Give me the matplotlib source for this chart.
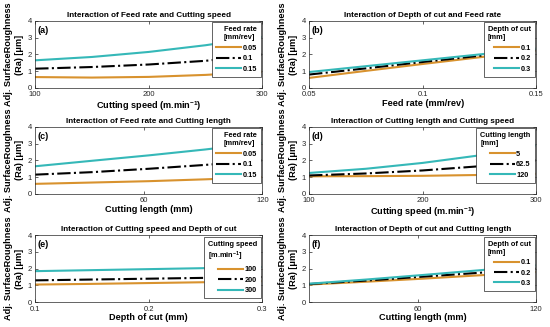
import numpy as np
import matplotlib
matplotlib.use("Agg")
import matplotlib.pyplot as plt

# ---- data ----
# (a) feed rate x cutting speed
speed = [100, 150, 200, 250, 300]
a_f005 = [0.65, 0.62, 0.66, 0.78, 0.97]
a_f010 = [1.15, 1.25, 1.40, 1.62, 2.00]
a_f015 = [1.65, 1.85, 2.15, 2.55, 3.05]

# (b) depth of cut x feed rate
feed = [0.05, 0.075, 0.1, 0.125, 0.15]
b_d01 = [0.60, 1.02, 1.43, 1.83, 2.22]
b_d02 = [0.80, 1.17, 1.55, 1.92, 2.30]
b_d03 = [0.95, 1.30, 1.65, 2.00, 2.35]

# (c) feed rate x cutting length
length = [5, 34, 62.5, 91, 120]
c_f005 = [0.60, 0.68, 0.76, 0.87, 1.00]
c_f010 = [1.15, 1.30, 1.50, 1.73, 2.00]
c_f015 = [1.65, 1.98, 2.30, 2.65, 3.05]

# (d) cutting length x cutting speed
d_l5 = [1.05, 1.06, 1.08, 1.13, 1.20]
d_l625 = [1.10, 1.22, 1.40, 1.65, 2.00]
d_l120 = [1.25, 1.50, 1.85, 2.30, 2.90]

# (e) cutting speed x depth of cut
doc = [0.1, 0.15, 0.2, 0.25, 0.3]
e_s100 = [1.05, 1.09, 1.14, 1.19, 1.25]
e_s200 = [1.30, 1.35, 1.40, 1.45, 1.50]
e_s300 = [1.85, 1.91, 1.97, 2.03, 2.10]

# (f) depth of cut x cutting length
f_d01 = [1.05, 1.22, 1.40, 1.60, 1.80]
f_d02 = [1.08, 1.29, 1.52, 1.75, 2.00]
f_d03 = [1.10, 1.35, 1.62, 1.90, 2.20]

ORANGE = "#D8922E"
TEAL = "#35B8B8"

plt.rcParams['font.family'] = ['Liberation Sans', 'DejaVu Sans']
plt.rcParams['mathtext.fontset'] = 'custom'
plt.rcParams['mathtext.rm'] = 'Liberation Sans:bold'
plt.rcParams['mathtext.default'] = 'rm'

fig = plt.figure(figsize=(5.5, 3.27), dpi=100)

lefts = [0.064, 0.562]
bottoms = [0.731, 0.407, 0.076]
w = 0.413
h = 0.205

panels = [
    ("(a)", "Interaction of Feed rate and Cutting speed", speed,
     [a_f005, a_f010, a_f015], ["0.05", "0.1", "0.15"], "Feed rate\n[mm/rev]",
     "Cutting speed (m.min$^{-1}$)", (100, 300), [100, 200, 300], ["100", "200", "300"]),
    ("(b)", "Interaction of Depth of cut and Feed rate", feed,
     [b_d01, b_d02, b_d03], ["0.1", "0.2", "0.3"], "Depth of cut\n[mm]",
     "Feed rate (mm/rev)", (0.05, 0.15), [0.05, 0.1, 0.15], ["0.05", "0.1", "0.15"]),
    ("(c)", "Interaction of Feed rate and Cutting length", length,
     [c_f005, c_f010, c_f015], ["0.05", "0.1", "0.15"], "Feed rate\n[mm/rev]",
     "Cutting length (mm)", (5, 120), [60, 120], ["60", "120"]),
    ("(d)", "Interaction of Cutting length and Cutting speed", speed,
     [d_l5, d_l625, d_l120], ["5", "62.5", "120"], "Cutting length\n[mm]",
     "Cutting speed (m.min$^{-1}$)", (100, 300), [100, 200, 300], ["100", "200", "300"]),
    ("(e)", "Interaction of Cutting speed and Depth of cut", doc,
     [e_s100, e_s200, e_s300], ["100", "200", "300"], "Cutting speed\n[m.min$^{-1}$]",
     "Depth of cut (mm)", (0.1, 0.3), [0.1, 0.2, 0.3], ["0.1", "0.2", "0.3"]),
    ("(f)", "Interaction of Depth of cut and Cutting length", length,
     [f_d01, f_d02, f_d03], ["0.1", "0.2", "0.3"], "Depth of cut\n[mm]",
     "Cutting length (mm)", (5, 120), [60, 120], ["60", "120"]),
]

styles = [dict(color=ORANGE, ls="-"), dict(color="black", ls="-."), dict(color=TEAL, ls="-")]

for i, (tag, title, x, ys, labs, ltitle, xlab, xlim, xt, xtl) in enumerate(panels):
    row, col = i // 2, i % 2
    ax = fig.add_axes([lefts[col], bottoms[row], w, h])
    for y, lab, st in zip(ys, labs, styles):
        ax.plot(x, y, lw=1.5, label=lab, **st)
    ax.set_xlim(*xlim)
    ax.set_ylim(0, 4)
    ax.set_xticks(xt)
    ax.set_xticklabels(xtl)
    ax.set_yticks([0, 1, 2, 3, 4])
    ax.tick_params(direction="in", labelsize=5.5, length=2.5, width=0.5, pad=2.5,
                   top=True, right=True, colors="#262626")
    for s in ax.spines.values():
        s.set_linewidth(0.5)
        s.set_color("#262626")
    ax.set_title(title, fontsize=5.9, fontweight="bold", pad=3)
    ax.set_xlabel(xlab, fontsize=6.6, fontweight="bold", labelpad=0.5)
    ax.set_ylabel("Adj. SurfaceRoughness\n(Ra) [\u03bcm]", fontsize=6.6, fontweight="bold",
                  labelpad=2.5, linespacing=1.25)
    ax.text(0.012, 0.93, tag, transform=ax.transAxes, fontsize=6.5, fontweight="bold",
            va="top", ha="left")
    leg = ax.legend(title=ltitle, loc="upper right", fontsize=5.3, title_fontsize=5.3,
                    frameon=True, fancybox=False, edgecolor="#262626", framealpha=1,
                    handlelength=3.4, handletextpad=0.2, borderpad=0.55, labelspacing=0.45,
                    borderaxespad=0.2, alignment="right")
    leg.get_frame().set_linewidth(0.5)
    plt.setp(leg.get_title(), fontweight="bold", multialignment="left")
    for t in leg.get_texts():
        t.set_fontweight("bold")

fig.savefig("out.png", dpi=100)
